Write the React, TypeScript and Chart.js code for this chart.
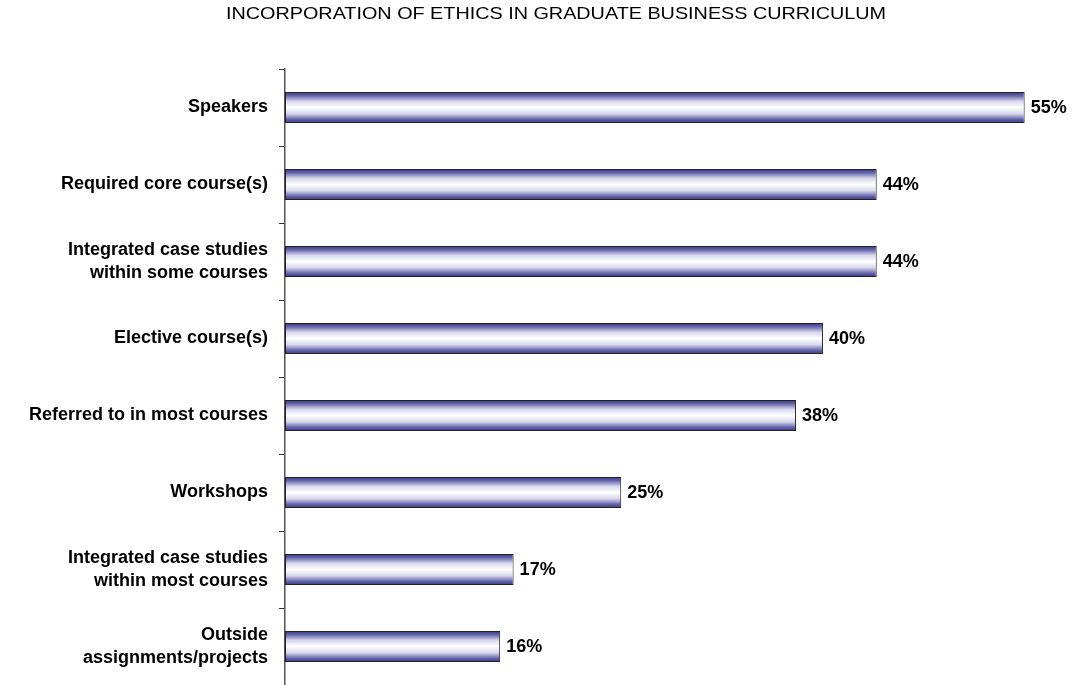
import React, { useEffect, useRef } from "react";
import { Chart, registerables } from "chart.js";

Chart.register(...registerables);

const titleText = "INCORPORATION OF ETHICS IN GRADUATE BUSINESS CURRICULUM";
const categories: (string | string[])[] = [
  "Speakers",
  "Required core course(s)",
  ["Integrated case studies", "within some courses"],
  "Elective course(s)",
  "Referred to in most courses",
  "Workshops",
  ["Integrated case studies", "within most courses"],
  ["Outside", "assignments/projects"],
];
const percentValues = [55, 44, 44, 40, 38, 25, 17, 16];
const xMax = 58;

const FONT = "Arial, 'Liberation Sans', Helvetica, sans-serif";

export default function App() {
  const canvasRef = useRef<HTMLCanvasElement | null>(null);

  useEffect(() => {
    const canvas = canvasRef.current;
    if (!canvas) return;

    const titlePlugin = {
      id: "customTitle",
      afterDraw(chart: any) {
        const ctx = chart.ctx;
        ctx.save();
        ctx.font = `normal 17px ${FONT}`;
        ctx.fillStyle = "#000";
        ctx.textAlign = "center";
        ctx.textBaseline = "middle";
        const w = ctx.measureText(titleText).width;
        const sx = 660 / w;
        ctx.translate(556, 14);
        ctx.scale(sx, 1);
        ctx.fillText(titleText, 0, 0);
        ctx.restore();
      },
    };

    const valueLabels = {
      id: "valueLabels",
      afterDatasetsDraw(chart: any) {
        const ctx = chart.ctx;
        const meta = chart.getDatasetMeta(0);
        ctx.save();
        ctx.font = `bold 18px ${FONT}`;
        ctx.fillStyle = "#000";
        ctx.textAlign = "left";
        ctx.textBaseline = "middle";
        meta.data.forEach((el: any, i: number) => {
          ctx.fillText(`${percentValues[i]}%`, el.x + 6, el.y + 1);
        });
        ctx.restore();
      },
    };

    const chart = new Chart(canvas, {
      type: "bar",
      data: {
        labels: categories,
        datasets: [
          {
            data: percentValues,
            backgroundColor: (ctx: any) => {
              const ch = ctx.chart;
              const y = ch.scales?.y;
              if (!y || !ch.chartArea || ctx.dataIndex === undefined) return "#8888c0";
              const c = y.getPixelForValue(ctx.dataIndex);
              const half = (y.height / categories.length) * 0.4 / 2;
              if (!isFinite(c) || !isFinite(half)) return "#8888c0";
              const g = ch.ctx.createLinearGradient(0, c - half, 0, c + half);
              g.addColorStop(0, "#363686");
              g.addColorStop(0.12, "#6666ac");
              g.addColorStop(0.3, "#d8d8ec");
              g.addColorStop(0.5, "#ffffff");
              g.addColorStop(0.7, "#d8d8ec");
              g.addColorStop(0.88, "#6666ac");
              g.addColorStop(1, "#363686");
              return g;
            },
            borderColor: "#222222",
            borderWidth: 1,
            borderSkipped: false,
            barPercentage: 0.4,
            categoryPercentage: 1,
          },
        ],
      },
      options: {
        indexAxis: "y",
        animation: false,
        responsive: false,
        maintainAspectRatio: false,
        layout: { padding: { top: 69, right: 10, bottom: 0, left: 0 } },
        plugins: {
          legend: { display: false },
          title: { display: false },
          tooltip: { enabled: false },
        },
        scales: {
          x: {
            display: false,
            min: 0,
            max: xMax,
          },
          y: {
            afterFit(scale: any) {
              scale.width = 285;
              scale.paddingTop = 0;
              scale.paddingBottom = 0;
            },
            grid: {
              display: true,
              drawOnChartArea: false,
              drawTicks: true,
              tickLength: 6,
              color: "#333333",
              offset: true,
            },
            border: { display: true, color: "#555555", width: 1.5 },
            ticks: {
              color: "#000",
              padding: 11,
              font: { family: FONT, size: 18, weight: "bold", lineHeight: 1.28 },
            },
          },
        },
      },
      plugins: [titlePlugin, valueLabels],
    } as any);

    return () => chart.destroy();
  }, []);

  return (
    <div style={{ position: "absolute", left: 0, top: 0, width: 1075, height: 685, background: "#fff" }}>
      <canvas ref={canvasRef} width={1075} height={685} style={{ width: 1075, height: 685 }} />
    </div>
  );
}
